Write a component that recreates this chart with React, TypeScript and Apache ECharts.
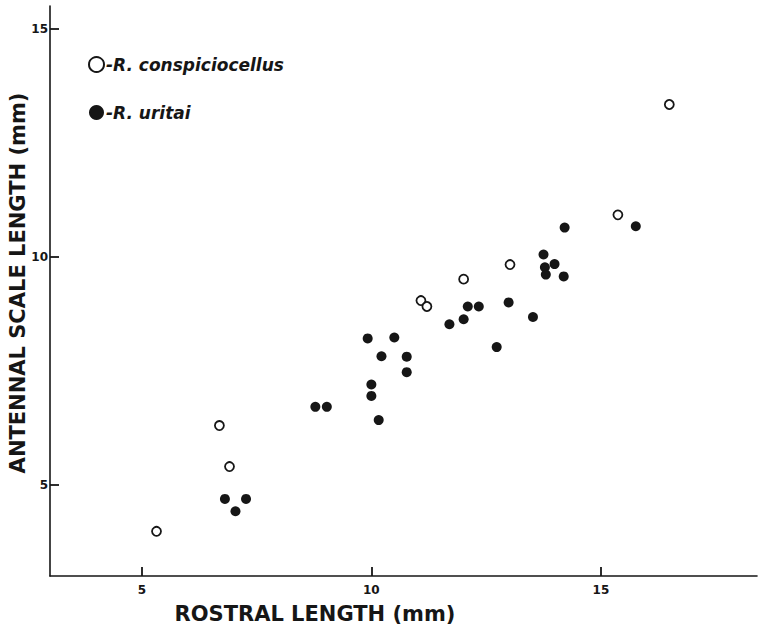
import React, { useEffect, useRef } from "react";
import * as echarts from "echarts";

const xMin = 3;
const yMin = 3;
const tickValues = [5, 10, 15];
const tickLabels = ["5", "10", "15"];

const consName = "R. conspiciocellus";
const consX = [5.32, 6.69, 6.91, 11.08, 11.21, 12.01, 13.02, 15.37, 16.49];
const consY = [3.98, 6.30, 5.40, 9.04, 8.91, 9.51, 9.83, 10.92, 13.34];

const uritaiName = "R. uritai";
const uritaiX = [6.81, 7.27, 7.04, 8.78, 9.03, 10.16, 10.0, 10.0, 9.92, 10.22, 10.5, 10.77, 10.77, 11.7, 12.01, 12.1, 12.34, 12.73, 12.99, 13.52, 13.75, 13.78, 13.8, 13.99, 14.19, 14.21, 15.76];
const uritaiY = [4.69, 4.69, 4.42, 6.71, 6.71, 6.42, 6.95, 7.2, 8.21, 7.82, 8.23, 7.81, 7.47, 8.52, 8.63, 8.91, 8.91, 8.02, 9.0, 8.68, 10.05, 9.77, 9.61, 9.84, 9.57, 10.64, 10.67];

const xTitle = "ROSTRAL LENGTH (mm)";
const yTitle = "ANTENNAL SCALE LENGTH (mm)";

const ink = "#161616";
const titleFont = 'bold 21px "DejaVu Sans", sans-serif';

export default function App() {
  const ref = useRef<HTMLDivElement>(null);
  useEffect(() => {
    if (!ref.current) return;
    const chart = echarts.init(ref.current, null, { renderer: "svg" });
    const axisCommon = {
      axisLine: { show: true, lineStyle: { color: ink, width: 1.6 } },
      splitLine: { show: false },
      axisTick: { show: true, inside: true, length: 9, customValues: tickValues, lineStyle: { color: ink, width: 1.8 } },
    };
    const labelFmt = (v: number) => tickLabels[tickValues.indexOf(v)] ?? String(v);
    chart.setOption({
      animation: false,
      backgroundColor: "#ffffff",
      grid: { left: 50, right: 1, top: 6, bottom: 52, containLabel: false },
      xAxis: {
        type: "value",
        min: xMin,
        max: 18.4,
        ...axisCommon,
        axisLabel: { customValues: tickValues, formatter: labelFmt, margin: 8, color: ink, fontSize: 12, fontWeight: "bold", fontFamily: "DejaVu Sans" },
      },
      yAxis: {
        type: "value",
        min: yMin,
        max: 15.5,
        ...axisCommon,
        axisLabel: { customValues: tickValues, formatter: labelFmt, margin: 2, color: ink, fontSize: 12, fontWeight: "bold", fontFamily: "DejaVu Sans" },
      },
      legend: {
        orient: "vertical",
        left: 83,
        top: 51,
        itemWidth: 15,
        itemHeight: 15,
        itemGap: 31,
        icon: "circle",
        formatter: (n: string) => "-" + n,
        textStyle: {
          color: ink,
          fontSize: 17,
          fontWeight: "bold",
          fontStyle: "italic",
          fontFamily: "DejaVu Sans",
          padding: [0, 0, 0, -3],
        },
        data: [consName, uritaiName],
      },
      graphic: [
        {
          type: "text",
          x: 315,
          y: 614,
          style: { text: xTitle, font: titleFont, fill: ink, align: "center", verticalAlign: "middle" },
        },
        {
          type: "text",
          x: 18,
          y: 283,
          rotation: Math.PI / 2,
          style: { text: yTitle, font: titleFont, fill: ink, align: "center", verticalAlign: "middle" },
        },
      ],
      series: [
        {
          name: consName,
          type: "scatter",
          symbol: "circle",
          symbolSize: 9,
          itemStyle: { color: "#ffffff", borderColor: ink, borderWidth: 1.8, opacity: 1 },
          data: consX.map((x, i) => [x, consY[i]]),
        },
        {
          name: uritaiName,
          type: "scatter",
          symbol: "circle",
          symbolSize: 10,
          itemStyle: { color: ink, opacity: 1 },
          data: uritaiX.map((x, i) => [x, uritaiY[i]]),
        },
      ],
    });
    return () => chart.dispose();
  }, []);
  return (
    <div
      ref={ref}
      style={{ position: "fixed", left: 0, top: 0, width: 758, height: 628, background: "#fff" }}
    />
  );
}
